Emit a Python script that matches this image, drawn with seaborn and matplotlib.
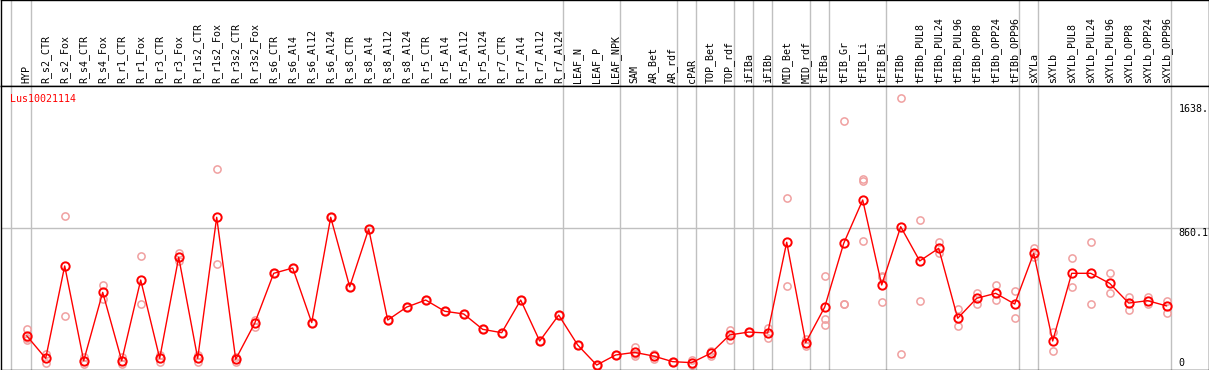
import matplotlib
matplotlib.use("Agg")
import matplotlib.pyplot as plt
import matplotlib.transforms as mtransforms
import seaborn as sns
import pandas as pd
import numpy as np

# ---------------- data ----------------
categories = [
    "HYP", "R_s2_CTR", "R_s2_Fox", "R_s4_CTR", "R_s4_Fox", "R_r1_CTR", "R_r1_Fox",
    "R_r3_CTR", "R_r3_Fox", "R_r1s2_CTR", "R_r1s2_Fox", "R_r3s2_CTR", "R_r3s2_Fox",
    "R_s6_CTR", "R_s6_Al4", "R_s6_Al12", "R_s6_Al24", "R_s8_CTR", "R_s8_Al4",
    "R_s8_Al12", "R_s8_Al24", "R_r5_CTR", "R_r5_Al4", "R_r5_Al12", "R_r5_Al24",
    "R_r7_CTR", "R_r7_Al4", "R_r7_Al12", "R_r7_Al24", "LEAF_N", "LEAF_P", "LEAF_NPK",
    "SAM", "AR_Bet", "AR_rdf", "cPAR", "TOP_Bet", "TOP_rdf", "iFIBa", "iFIBb",
    "MID_Bet", "MID_rdf", "tFIBa", "tFIB_Gr", "tFIB_Li", "tFIB_Bi", "tFIBb",
    "tFIBb_PUL8", "tFIBb_PUL24", "tFIBb_PUL96", "tFIBb_OPP8", "tFIBb_OPP24",
    "tFIBb_OPP96", "sXYLa", "sXYLb", "sXYLb_PUL8", "sXYLb_PUL24", "sXYLb_PUL96",
    "sXYLb_OPP8", "sXYLb_OPP24", "sXYLb_OPP96",
]

means = [
    189, 48, 625, 33, 460, 33, 537, 48, 679, 48, 929, 42, 267,
    579, 612, 271, 929, 495, 856, 287, 368, 412, 342, 325, 229,
    208, 412, 156, 318, 131, 6, 69,
    85, 62, 27, 21, 79, 194, 212, 206, 773, 146,
    368, 766, 1037, 506, 870,
    656, 735, 298, 423, 454, 387,
    704, 156, 579, 579, 516, 393, 408, 375,
]

replicates = [
    [231, 173, 165], [75, 21], [937, 312], [56, 12], [506, 418], [54, 12],
    [685, 387], [68, 28], [708, 656], [70, 26], [1228, 635], [56, 28], [285, 246],
    [579], [612], [271], [929], [495], [856], [287], [368], [412], [342], [325],
    [229], [208], [412], [156], [318], [131], [6], [69],
    [117, 64, 74], [78, 46], [27], [37, 6], [96, 62], [225, 160, 197], [212],
    [236, 176], [1047, 500], [170, 122],
    [562, 294, 256], [1528, 385, 385], [1166, 1154, 781], [562, 558, 398],
    [1672, 75],
    [912, 406], [773, 704], [354, 248], [454, 387], [506, 410], [466, 298],
    [739, 679], [214, 94], [673, 493], [773, 387], [579, 454], [431, 348],
    [431, 387], [408, 333],
]

group_ends = [0, 28, 31, 34, 35, 37, 38, 39, 41, 42, 45, 52, 53, 60]
gene_name = "Lus10021114"
ytick_values = [1638.0, 860.1, 0]
ytick_labels = ["1638.", "860.1", "0"]

# ---------------- figure ----------------
sns.set_style("white")
plt.rcParams["font.family"] = ["DejaVu Sans Mono"]
FS = 7.2

W, H = 1209, 370
fig = plt.figure(figsize=(W / 100, H / 100), dpi=100)

x0_px, x1_px = 0.5, 1208.5
head_bot_px = 85.5
plot_bot_px = 369.5

# data x mapping: x_px = 26.7 + 19*i
xlim = ((x0_px - 26.7) / 19, (x1_px - 26.7) / 19)
# y mapping: y_px = 366 - 0.1601*v
ylim = ((366 - plot_bot_px) / 0.1601, (366 - head_bot_px) / 0.1601)

ax_head = fig.add_axes([x0_px / W, (H - head_bot_px) / H, (x1_px - x0_px) / W, head_bot_px / H])
ax = fig.add_axes([x0_px / W, (H - plot_bot_px) / H, (x1_px - x0_px) / W,
                   (plot_bot_px - head_bot_px) / H])

for a in (ax_head, ax):
    a.set_xlim(*xlim)
    a.set_xticks([])
    a.set_yticks([])
    a.set_xlabel("")
    a.set_ylabel("")
    for s in a.spines.values():
        s.set_color("black")
        s.set_linewidth(1.0)
ax.set_ylim(*ylim)
ax_head.set_ylim(0, 1)

# separators
sep_x = [-0.84] + [g + 0.21 for g in group_ends]
for a in (ax_head, ax):
    for sx in sep_x:
        a.axvline(sx, color="#c0c0c0", lw=1.0, zorder=0.5)
ax.axhline(860.1, color="#c0c0c0", lw=1.0, zorder=0.5)

# header labels
pos = np.arange(len(categories))
trans_h = mtransforms.blended_transform_factory(ax_head.transData, ax_head.transAxes)
for i, c in enumerate(categories):
    ax_head.text(i, 2.0 / 85, c, rotation=90, ha="center", va="bottom",
                 fontsize=FS, color="black", transform=trans_h)

# replicate points
rep_x, rep_y = [], []
for i, reps in enumerate(replicates):
    for r in reps:
        rep_x.append(i)
        rep_y.append(r)
df_rep = pd.DataFrame({"pos": rep_x, "value": rep_y})
sns.lineplot(data=df_rep, x="pos", y="value", estimator=None, ax=ax,
             linestyle="", marker="o", markersize=5.2,
             markerfacecolor="none", markeredgecolor="#f0a0a0",
             markeredgewidth=1.1, color="#f0a0a0", zorder=2)

# mean line
df_mean = pd.DataFrame({"pos": pos, "value": means})
sns.lineplot(data=df_mean, x="pos", y="value", estimator=None, ax=ax,
             color="#ff0000", linewidth=1.0, marker="o", markersize=6,
             markerfacecolor="none", markeredgecolor="#ff0000",
             markeredgewidth=1.4, zorder=3)
ax.set_xlabel("")
ax.set_ylabel("")
ax.set_xlim(*xlim)
ax.set_ylim(*ylim)

# y labels on the right
label_x = (1178.7 - 26.7) / 19
ax.text(label_x, ytick_values[0], ytick_labels[0], ha="left", va="top", fontsize=FS, color="black")
ax.text(label_x, ytick_values[1], ytick_labels[1], ha="left", va="top", fontsize=FS, color="black")
ax.text(label_x, ytick_values[2], ytick_labels[2], ha="left", va="baseline", fontsize=FS, color="black")

# gene name
ax.text(9.3 / (x1_px - x0_px), 1 - 8.8 / (plot_bot_px - head_bot_px), gene_name,
        transform=ax.transAxes, ha="left", va="top", fontsize=FS, color="#ff0000")

fig.savefig("out.png", dpi=100)
